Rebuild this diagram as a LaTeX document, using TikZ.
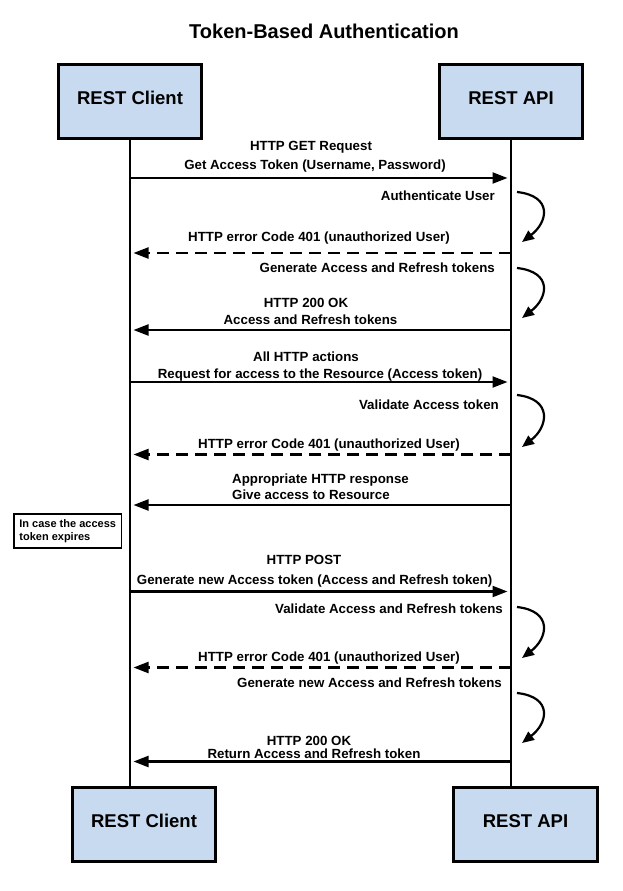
\documentclass[tikz,border=0pt]{standalone}
\usepackage{fontspec}
\setmainfont{Liberation Sans}
\usetikzlibrary{arrows.meta}
\definecolor{boxblue}{RGB}{200,218,240}
\begin{document}
\begin{tikzpicture}[x=1pt,y=-1pt,
  box/.style={draw=black, line width=2.6pt, fill=boxblue, minimum width=143.5pt, minimum height=74.5pt, inner sep=0pt, text depth=7pt, font=\fontsize{18.5}{22}\selectfont\bfseries},
  notebox/.style={draw=black, line width=1.8pt, fill=white, align=left, inner xsep=5.5pt, minimum height=34pt, font=\fontsize{11}{12.5}\selectfont\bfseries},
  life/.style={line width=2.2pt},
  msg/.style={line width=2.2pt, -{Triangle[length=15pt,width=11pt]}, shorten >=3.5pt},
  err/.style={msg, dash pattern=on 12pt off 7pt},
  selfloop/.style={line width=2.2pt, -{Triangle[length=12pt,width=10pt]}},
  lbl/.style={font=\fontsize{13.3}{16}\selectfont\bfseries, inner sep=0pt, anchor=base},
  rlbl/.style={lbl, anchor=base east},
  llbl/.style={lbl, anchor=base west},
  ttl/.style={font=\fontsize{20}{24}\selectfont\bfseries, inner sep=0pt, anchor=base}
]
\useasboundingbox[fill=white] (0,0) rectangle (623,891);

% title
\node[ttl] (title) at (324,38) {Token-Based Authentication};

% participants
\node[box] (ctop) at (130,101.5) {REST Client};
\node[box] (atop) at (511,101.5) {REST API};
\node[box] (cbot) at (144,824.5) {REST Client};
\node[box] (abot) at (525.5,824.5) {REST API};

% lifelines
\draw[life] (ctop.south) -- (ctop.south |- cbot.north);
\draw[life] (atop.south) -- (atop.south |- abot.north);

% message anchor points on lifelines
\foreach \n/\y in {1/178, 3/253, 5/330, 6/382, 8/454.5, 9/505, 11/591.5, 13/667.5, 15/761.5} {
  \coordinate (c\n) at (130,\y);
  \coordinate (a\n) at (511,\y);
}
% self-loop end points
\foreach \n/\ya/\yb in {2/192/242, 4/268/318, 7/395/447, 12/607/658, 14/693/743} {
  \coordinate (s\n a) at (517,\ya);
  \coordinate (s\n b) at (522,\yb);
}

% 1
\node[lbl] (l1a) at (311,150) {HTTP GET Request};
\node[lbl] (l1b) at (315,169) {Get Access Token (Username, Password)};
\draw[msg] (c1) -- (a1);
% 2
\node[rlbl] (l2) at (495,200) {Authenticate User};
\draw[selfloop] (s2a) .. controls +(36,4) and +(26,-20) .. (s2b);
% 3
\node[lbl] (l3) at (319,241) {HTTP error Code 401 (unauthorized User)};
\draw[err] (a3) -- (c3);
% 4
\node[rlbl] (l4) at (495,272) {Generate Access and Refresh tokens};
\draw[selfloop] (s4a) .. controls +(36,4) and +(26,-20) .. (s4b);
% 5
\node[lbl] (l5a) at (306,307) {HTTP 200 OK};
\node[lbl] (l5b) at (310.5,324) {Access and Refresh tokens};
\draw[msg] (a5) -- (c5);
% 6
\node[lbl] (l6a) at (306,361) {All HTTP actions};
\node[lbl] (l6b) at (320,378) {Request for access to the Resource (Access token)};
\draw[msg] (c6) -- (a6);
% 7
\node[rlbl] (l7) at (499,409) {Validate Access token};
\draw[selfloop] (s7a) .. controls +(36,4) and +(26,-20) .. (s7b);
% 8
\node[lbl] (l8) at (329,448) {HTTP error Code 401 (unauthorized User)};
\draw[err] (a8) -- (c8);
% 9
\node[llbl] (l9a) at (232,483) {Appropriate HTTP response};
\node[llbl] (l9b) at (232,499) {Give access to Resource};
\draw[msg] (a9) -- (c9);
% note
\node[notebox, anchor=north west] (note) at (13,513) {In case the access\\token expires};
% 11
\node[lbl] (l11a) at (304,564) {HTTP POST};
\node[lbl] (l11b) at (314.7,584) {Generate new Access token (Access and Refresh token)};
\draw[msg] (c11) -- (a11);
% 12
\node[rlbl] (l12) at (503,613) {Validate Access and Refresh tokens};
\draw[selfloop] (s12a) .. controls +(36,4) and +(26,-20) .. (s12b);
% 13
\node[lbl] (l13) at (329,661) {HTTP error Code 401 (unauthorized User)};
\draw[err] (a13) -- (c13);
% 14
\node[rlbl] (l14) at (502,687) {Generate new Access and Refresh tokens};
\draw[selfloop] (s14a) .. controls +(36,4) and +(26,-20) .. (s14b);
% 15
\node[lbl] (l15a) at (309,745) {HTTP 200 OK};
\node[lbl] (l15b) at (314,758) {Return Access and Refresh token};
\draw[msg] (a15) -- (c15);
\end{tikzpicture}
\end{document}
